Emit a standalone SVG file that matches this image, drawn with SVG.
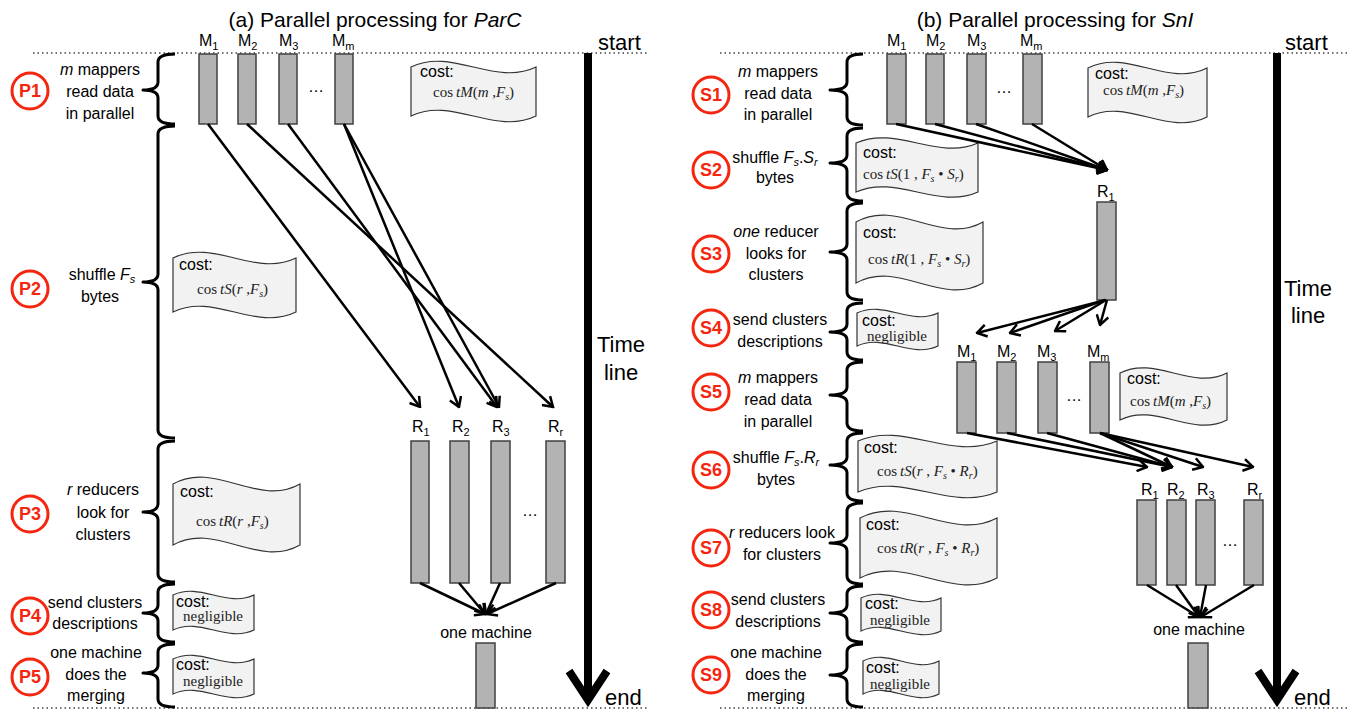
<svg xmlns="http://www.w3.org/2000/svg" width="1349" height="713" viewBox="0 0 1349 713">
<style>
.t{font-family:"Liberation Sans",Arial,sans-serif;font-size:16px;fill:#000}
.c{text-anchor:middle}
.ttl{font-family:"Liberation Sans",Arial,sans-serif;font-size:21px;text-anchor:middle}
.big{font-family:"Liberation Sans",Arial,sans-serif;font-size:22px}
.lbl{font-family:"Liberation Sans",Arial,sans-serif;font-size:16px}
.sub{font-size:11px}
.f{font-family:"Liberation Serif","Times New Roman",serif;font-size:15px;fill:#222}
.i{font-style:italic}
.sb{font-size:10px;font-style:italic}
.circ{fill:#fff;stroke:#f5260f;stroke-width:3}
.ct{font-family:"Liberation Sans",Arial,sans-serif;font-size:18px;font-weight:bold;fill:#f5260f;text-anchor:middle}
.brace{fill:none;stroke:#000;stroke-width:3;stroke-linejoin:round}
.box{fill:#f2f2f2;stroke:#333;stroke-width:1.2}
.bar{fill:#b3b3b3;stroke:#404040;stroke-width:1.5}
.dot{stroke:#444;stroke-width:1.5;stroke-dasharray:1.5 3;fill:none}
.tl{stroke:#000;stroke-width:8;fill:none}
.conn line{stroke:#000;stroke-width:2.5;marker-end:url(#ah)}
</style>
<defs>
<marker id="ah" markerUnits="userSpaceOnUse" viewBox="0 0 12 14" refX="10.5" refY="7" markerWidth="12" markerHeight="14" orient="auto">
<path d="M1,1 L10.5,7 L1,13" fill="none" stroke="#000" stroke-width="2.5"/>
</marker>
</defs>
<rect width="1349" height="713" fill="#fff"/>

<!-- titles -->
<text class="ttl" x="375" y="27">(a) Parallel processing for <tspan class="i">ParC</tspan></text>
<text class="ttl" x="1055" y="27">(b) Parallel processing for <tspan class="i">SnI</tspan></text>

<!-- dotted lines -->
<g id="guides">
<line class="dot" x1="33" y1="53" x2="648" y2="53"/>
<line class="dot" x1="33" y1="708" x2="648" y2="708"/>
<line class="dot" x1="720" y1="53" x2="1349" y2="53"/>
<line class="dot" x1="720" y1="708" x2="1349" y2="708"/>
</g>

<!-- timelines -->
<g id="timeline-a">
<line class="tl" x1="588" y1="53" x2="588" y2="700"/>
<polyline class="tl" points="569,671 588,700 607,671" stroke-linejoin="miter"/>
<text class="big" x="598" y="50">start</text>
<text class="big c" x="621" y="352">Time</text>
<text class="big c" x="621" y="380">line</text>
<text class="big" x="605" y="705">end</text>
</g>
<g id="timeline-b">
<line class="tl" x1="1277" y1="53" x2="1277" y2="700"/>
<polyline class="tl" points="1258,671 1277,700 1296,671" stroke-linejoin="miter"/>
<text class="big" x="1285" y="50">start</text>
<text class="big c" x="1308" y="296">Time</text>
<text class="big c" x="1308" y="323">line</text>
<text class="big" x="1294" y="705">end</text>
</g>

<!-- ===== Panel A phases ===== -->
<g id="P1">
<circle class="circ" cx="30" cy="91" r="18"/><text class="ct" x="30" y="97">P1</text>
<text class="t c" x="100" y="75"><tspan class="i">m</tspan> mappers</text>
<text class="t c" x="100" y="97">read data</text>
<text class="t c" x="100" y="119">in parallel</text>
<path class="brace" d="M175,54 Q158,54 158,62 L158,82 Q158,90 143,90 Q158,90 158,98 L158,116 Q158,124 175,124"/>
<path class="box" d="M411,67 C452,47 495,87 536,67 L536,116 C495,136 452,96 411,116 Z"/>
<text class="t" x="420" y="77">cost:</text>
<text class="f" x="433" y="97">cos<tspan class="i" dx="3">tM</tspan>(<tspan class="i">m</tspan> ,<tspan class="i">F</tspan><tspan class="sb" dy="3">s</tspan><tspan dy="-3">)</tspan></text>
</g>
<g id="P2">
<circle class="circ" cx="30" cy="289" r="18"/><text class="ct" x="30" y="295">P2</text>
<text class="t c" x="102" y="280">shuffle <tspan class="i">F</tspan><tspan class="sub i" dy="3">s</tspan></text>
<text class="t c" x="100" y="302">bytes</text>
<path class="brace" d="M175,126 Q158,126 158,134 L158,274 Q158,282 143,282 Q158,282 158,290 L158,430 Q158,438 175,438"/>
<path class="box" d="M173,258 C214,238 255,278 296,258 L296,312 C255,332 214,292 173,312 Z"/>
<text class="t" x="179" y="270">cost:</text>
<text class="f" x="197" y="294">cos<tspan class="i" dx="3">tS</tspan>(<tspan class="i">r</tspan> ,<tspan class="i">F</tspan><tspan class="sb" dy="3">s</tspan><tspan dy="-3">)</tspan></text>
</g>
<g id="P3">
<circle class="circ" cx="30" cy="514" r="18"/><text class="ct" x="30" y="520">P3</text>
<text class="t c" x="103" y="495"><tspan class="i">r</tspan> reducers</text>
<text class="t c" x="103" y="518">look for</text>
<text class="t c" x="103" y="540">clusters</text>
<path class="brace" d="M175,441 Q158,441 158,449 L158,504 Q158,512 143,512 Q158,512 158,520 L158,574 Q158,582 175,582"/>
<path class="box" d="M173,484 C215,460 258,508 300,484 L300,545 C258,569 215,521 173,545 Z"/>
<text class="t" x="180" y="497">cost:</text>
<text class="f" x="196" y="526">cos<tspan class="i" dx="3">tR</tspan>(<tspan class="i">r</tspan> ,<tspan class="i">F</tspan><tspan class="sb" dy="3">s</tspan><tspan dy="-3">)</tspan></text>
</g>
<g id="P4">
<circle class="circ" cx="30" cy="616" r="18"/><text class="ct" x="30" y="622">P4</text>
<text class="t c" x="95" y="608">send clusters</text>
<text class="t c" x="95" y="629">descriptions</text>
<path class="brace" d="M175,584 Q158,584 158,592 L158,605 Q158,613 143,613 Q158,613 158,621 L158,634 Q158,642 175,642"/>
<path class="box" d="M173,595 C200,582 227,608 254,595 L254,630 C227,643 200,617 173,630 Z"/>
<text class="t" x="176" y="607">cost:</text>
<text class="f" x="183" y="621">negligible</text>
</g>
<g id="P5">
<circle class="circ" cx="30" cy="677" r="18"/><text class="ct" x="30" y="683">P5</text>
<text class="t c" x="96" y="658">one machine</text>
<text class="t c" x="96" y="680">does the</text>
<text class="t c" x="96" y="701">merging</text>
<path class="brace" d="M175,644 Q158,644 158,652 L158,665 Q158,673 143,673 Q158,673 158,681 L158,699 Q158,707 175,707"/>
<path class="box" d="M173,659 C200,646 227,672 254,659 L254,694 C227,707 200,681 173,694 Z"/>
<text class="t" x="176" y="670">cost:</text>
<text class="f" x="183" y="686">negligible</text>
</g>

<!-- Panel A workers -->
<g id="A-mappers">
<rect class="bar" x="199" y="54" width="18" height="70"/>
<rect class="bar" x="238" y="54" width="18" height="70"/>
<rect class="bar" x="279" y="54" width="18" height="70"/>
<rect class="bar" x="335" y="54" width="18" height="70"/>
<text class="lbl" x="199" y="46">M<tspan class="sub" dy="4">1</tspan></text>
<text class="lbl" x="238" y="46">M<tspan class="sub" dy="4">2</tspan></text>
<text class="lbl" x="279" y="46">M<tspan class="sub" dy="4">3</tspan></text>
<text class="lbl" x="332" y="46">M<tspan class="sub" dy="4">m</tspan></text>
<text class="lbl" x="308" y="92">…</text>
</g>
<g id="A-reducers">
<rect class="bar" x="411" y="441" width="18" height="142"/>
<rect class="bar" x="450" y="441" width="19" height="142"/>
<rect class="bar" x="491" y="441" width="19" height="142"/>
<rect class="bar" x="546" y="441" width="19" height="142"/>
<text class="lbl" x="412" y="432">R<tspan class="sub" dy="4">1</tspan></text>
<text class="lbl" x="452" y="432">R<tspan class="sub" dy="4">2</tspan></text>
<text class="lbl" x="492" y="432">R<tspan class="sub" dy="4">3</tspan></text>
<text class="lbl" x="548" y="432">R<tspan class="sub" dy="4">r</tspan></text>
<text class="lbl" x="522" y="516">…</text>
</g>
<g id="A-machine">
<text class="lbl c" x="486" y="638">one machine</text>
<rect class="bar" x="476" y="643" width="19" height="65"/>
</g>

<!-- ===== Panel B phases ===== -->
<g id="S1">
<circle class="circ" cx="711" cy="95" r="18"/><text class="ct" x="711" y="101">S1</text>
<text class="t c" x="778" y="77"><tspan class="i">m</tspan> mappers</text>
<text class="t c" x="778" y="99">read data</text>
<text class="t c" x="778" y="120">in parallel</text>
<path class="brace" d="M863,54 Q847,54 847,62 L847,82 Q847,90 830,90 Q847,90 847,98 L847,117 Q847,125 863,125"/>
<path class="box" d="M1088,68 C1127,48 1168,88 1207,68 L1207,117 C1168,137 1127,97 1088,117 Z"/>
<text class="t" x="1095" y="79">cost:</text>
<text class="f" x="1103" y="95">cos<tspan class="i" dx="3">tM</tspan>(<tspan class="i">m</tspan> ,<tspan class="i">F</tspan><tspan class="sb" dy="3">s</tspan><tspan dy="-3">)</tspan></text>
</g>
<g id="S2">
<circle class="circ" cx="711" cy="170" r="18"/><text class="ct" x="711" y="176">S2</text>
<text class="t c" x="775" y="163">shuffle <tspan class="i">F</tspan><tspan class="sub i" dy="3">s</tspan><tspan dy="-3">.</tspan><tspan class="i">S</tspan><tspan class="sub i" dy="3">r</tspan></text>
<text class="t c" x="775" y="183">bytes</text>
<path class="brace" d="M863,128 Q847,128 847,136 L847,155 Q847,163 830,163 Q847,163 847,171 L847,193 Q847,201 863,201"/>
<path class="box" d="M856,143 C896,125 938,161 978,143 L978,192 C938,210 896,174 856,192 Z"/>
<text class="t" x="863" y="158">cost:</text>
<text class="f" x="863" y="179">cos<tspan class="i" dx="3">tS</tspan>(1 , <tspan class="i">F</tspan><tspan class="sb" dy="3">s</tspan><tspan dy="-3"> • </tspan><tspan class="i">S</tspan><tspan class="sb" dy="3">r</tspan><tspan dy="-3">)</tspan></text>
</g>
<g id="S3">
<circle class="circ" cx="711" cy="254" r="18"/><text class="ct" x="711" y="260">S3</text>
<text class="t c" x="776" y="237"><tspan class="i">one</tspan> reducer</text>
<text class="t c" x="776" y="259">looks for</text>
<text class="t c" x="776" y="280">clusters</text>
<path class="brace" d="M863,203 Q847,203 847,211 L847,244 Q847,252 830,252 Q847,252 847,260 L847,292 Q847,300 863,300"/>
<path class="box" d="M856,222 C898,198 941,246 983,222 L983,283 C941,307 898,259 856,283 Z"/>
<text class="t" x="863" y="238">cost:</text>
<text class="f" x="868" y="264">cos<tspan class="i" dx="3">tR</tspan>(1 , <tspan class="i">F</tspan><tspan class="sb" dy="3">s</tspan><tspan dy="-3"> • </tspan><tspan class="i">S</tspan><tspan class="sb" dy="3">r</tspan><tspan dy="-3">)</tspan></text>
</g>
<g id="S4">
<circle class="circ" cx="711" cy="328" r="18"/><text class="ct" x="711" y="334">S4</text>
<text class="t c" x="780" y="325">send clusters</text>
<text class="t c" x="780" y="347">descriptions</text>
<path class="brace" d="M863,303 Q847,303 847,311 L847,324 Q847,332 830,332 Q847,332 847,340 L847,352 Q847,360 863,360"/>
<path class="box" d="M857,313 C884,300 911,326 938,313 L938,346 C911,359 884,333 857,346 Z"/>
<text class="t" x="862" y="326">cost:</text>
<text class="f" x="867" y="341">negligible</text>
</g>
<g id="S5">
<circle class="circ" cx="711" cy="392" r="18"/><text class="ct" x="711" y="398">S5</text>
<text class="t c" x="778" y="383"><tspan class="i">m</tspan> mappers</text>
<text class="t c" x="778" y="405">read data</text>
<text class="t c" x="778" y="427">in parallel</text>
<path class="brace" d="M863,362 Q847,362 847,370 L847,387 Q847,395 830,395 Q847,395 847,403 L847,423 Q847,431 863,431"/>
<path class="box" d="M1120,373 C1155,355 1192,391 1227,373 L1227,420 C1192,438 1155,402 1120,420 Z"/>
<text class="t" x="1127" y="384">cost:</text>
<text class="f" x="1130" y="406">cos<tspan class="i" dx="3">tM</tspan>(<tspan class="i">m</tspan> ,<tspan class="i">F</tspan><tspan class="sb" dy="3">s</tspan><tspan dy="-3">)</tspan></text>
</g>
<g id="S6">
<circle class="circ" cx="711" cy="470" r="18"/><text class="ct" x="711" y="476">S6</text>
<text class="t c" x="776" y="463">shuffle <tspan class="i">F</tspan><tspan class="sub i" dy="3">s</tspan><tspan dy="-3">.</tspan><tspan class="i">R</tspan><tspan class="sub i" dy="3">r</tspan></text>
<text class="t c" x="776" y="485">bytes</text>
<path class="brace" d="M863,433 Q847,433 847,441 L847,457 Q847,465 830,465 Q847,465 847,473 L847,493 Q847,501 863,501"/>
<path class="box" d="M858,441 C904,421 951,461 997,441 L997,492 C951,512 904,472 858,492 Z"/>
<text class="t" x="864" y="453">cost:</text>
<text class="f" x="877" y="476">cos<tspan class="i" dx="3">tS</tspan>(<tspan class="i">r</tspan> , <tspan class="i">F</tspan><tspan class="sb" dy="3">s</tspan><tspan dy="-3"> • </tspan><tspan class="i">R</tspan><tspan class="sb" dy="3">r</tspan><tspan dy="-3">)</tspan></text>
</g>
<g id="S7">
<circle class="circ" cx="711" cy="548" r="18"/><text class="ct" x="711" y="554">S7</text>
<text class="t c" x="782" y="538"><tspan class="i">r</tspan> reducers look</text>
<text class="t c" x="782" y="560">for clusters</text>
<path class="brace" d="M863,503 Q847,503 847,511 L847,535 Q847,543 830,543 Q847,543 847,551 L847,576 Q847,584 863,584"/>
<path class="box" d="M860,518 C905,494 952,542 997,518 L997,578 C952,602 905,554 860,578 Z"/>
<text class="t" x="866" y="530">cost:</text>
<text class="f" x="877" y="553">cos<tspan class="i" dx="3">tR</tspan>(<tspan class="i">r</tspan> , <tspan class="i">F</tspan><tspan class="sb" dy="3">s</tspan><tspan dy="-3"> • </tspan><tspan class="i">R</tspan><tspan class="sb" dy="3">r</tspan><tspan dy="-3">)</tspan></text>
</g>
<g id="S8">
<circle class="circ" cx="711" cy="610" r="18"/><text class="ct" x="711" y="616">S8</text>
<text class="t c" x="778" y="605">send clusters</text>
<text class="t c" x="778" y="627">descriptions</text>
<path class="brace" d="M863,586 Q847,586 847,594 L847,605 Q847,613 830,613 Q847,613 847,621 L847,634 Q847,642 863,642"/>
<path class="box" d="M861,598 C887,585 915,611 941,598 L941,631 C915,644 887,618 861,631 Z"/>
<text class="t" x="865" y="609">cost:</text>
<text class="f" x="870" y="625">negligible</text>
</g>
<g id="S9">
<circle class="circ" cx="711" cy="675" r="18"/><text class="ct" x="711" y="681">S9</text>
<text class="t c" x="776" y="658">one machine</text>
<text class="t c" x="776" y="680">does the</text>
<text class="t c" x="776" y="701">merging</text>
<path class="brace" d="M863,644 Q847,644 847,652 L847,667 Q847,675 830,675 Q847,675 847,683 L847,699 Q847,707 863,707"/>
<path class="box" d="M863,661 C888,648 914,674 939,661 L939,694 C914,707 888,681 863,694 Z"/>
<text class="t" x="866" y="673">cost:</text>
<text class="f" x="870" y="689">negligible</text>
</g>

<!-- Panel B workers -->
<g id="B-mappers1">
<rect class="bar" x="887" y="54" width="19" height="70"/>
<rect class="bar" x="926" y="54" width="18" height="70"/>
<rect class="bar" x="967" y="54" width="19" height="70"/>
<rect class="bar" x="1023" y="54" width="19" height="70"/>
<text class="lbl" x="887" y="46">M<tspan class="sub" dy="4">1</tspan></text>
<text class="lbl" x="926" y="46">M<tspan class="sub" dy="4">2</tspan></text>
<text class="lbl" x="967" y="46">M<tspan class="sub" dy="4">3</tspan></text>
<text class="lbl" x="1020" y="46">M<tspan class="sub" dy="4">m</tspan></text>
<text class="lbl" x="996" y="93">…</text>
</g>
<g id="B-reducer1">
<text class="lbl" x="1097" y="197">R<tspan class="sub" dy="4">1</tspan></text>
<rect class="bar" x="1097" y="202" width="19" height="98"/>
</g>
<g id="B-mappers2">
<rect class="bar" x="957" y="362" width="19" height="71"/>
<rect class="bar" x="997" y="362" width="19" height="71"/>
<rect class="bar" x="1038" y="362" width="19" height="71"/>
<rect class="bar" x="1090" y="362" width="19" height="71"/>
<text class="lbl" x="957" y="357">M<tspan class="sub" dy="4">1</tspan></text>
<text class="lbl" x="997" y="357">M<tspan class="sub" dy="4">2</tspan></text>
<text class="lbl" x="1037" y="357">M<tspan class="sub" dy="4">3</tspan></text>
<text class="lbl" x="1087" y="357">M<tspan class="sub" dy="4">m</tspan></text>
<text class="lbl" x="1066" y="401">…</text>
</g>
<g id="B-reducers">
<rect class="bar" x="1137" y="500" width="19" height="85"/>
<rect class="bar" x="1167" y="500" width="19" height="85"/>
<rect class="bar" x="1196" y="500" width="19" height="85"/>
<rect class="bar" x="1244" y="500" width="19" height="85"/>
<text class="lbl" x="1141" y="495">R<tspan class="sub" dy="4">1</tspan></text>
<text class="lbl" x="1167" y="495">R<tspan class="sub" dy="4">2</tspan></text>
<text class="lbl" x="1197" y="495">R<tspan class="sub" dy="4">3</tspan></text>
<text class="lbl" x="1247" y="495">R<tspan class="sub" dy="4">r</tspan></text>
<text class="lbl" x="1222" y="546">…</text>
</g>
<g id="B-machine">
<text class="lbl c" x="1199" y="635">one machine</text>
<rect class="bar" x="1188" y="643" width="20" height="65"/>
</g>

<!-- connectors -->
<g id="connectors" class="conn">
<line x1="208" y1="124" x2="420" y2="407"/>
<line x1="247" y1="124" x2="553" y2="407"/>
<line x1="288" y1="124" x2="497" y2="407"/>
<line x1="344" y1="124" x2="459" y2="407"/>
<line x1="344" y1="124" x2="499" y2="407"/>
<line x1="420" y1="583" x2="485" y2="614"/>
<line x1="459" y1="583" x2="485" y2="614"/>
<line x1="500" y1="583" x2="486" y2="614"/>
<line x1="556" y1="583" x2="487" y2="614"/>

<line x1="896" y1="124" x2="1107" y2="170"/>
<line x1="935" y1="124" x2="1107" y2="170"/>
<line x1="976" y1="124" x2="1107" y2="170"/>
<line x1="1032" y1="124" x2="1107" y2="170"/>
<line x1="1106" y1="300" x2="977" y2="333"/>
<line x1="1105" y1="300" x2="1010" y2="333"/>
<line x1="1106" y1="300" x2="1055" y2="331"/>
<line x1="1107" y1="300" x2="1100" y2="325"/>
<line x1="967" y1="433" x2="1147" y2="467"/>
<line x1="1007" y1="433" x2="1172" y2="467"/>
<line x1="1047" y1="433" x2="1172" y2="467"/>
<line x1="1100" y1="433" x2="1172" y2="467"/>
<line x1="1100" y1="433" x2="1203" y2="467"/>
<line x1="1100" y1="433" x2="1253" y2="467"/>
<line x1="1147" y1="585" x2="1199" y2="617"/>
<line x1="1176" y1="585" x2="1199" y2="617"/>
<line x1="1206" y1="585" x2="1200" y2="617"/>
<line x1="1254" y1="585" x2="1201" y2="617"/>
</g>
</svg>
